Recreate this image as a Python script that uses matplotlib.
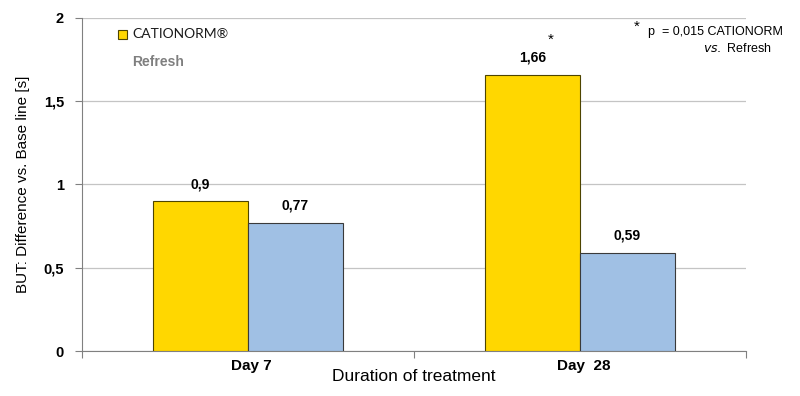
import numpy as np
import matplotlib
matplotlib.use("Agg")
import matplotlib.pyplot as plt
from matplotlib.patches import Rectangle

plt.rcParams['font.family'] = ['Liberation Sans', 'DejaVu Sans']

days = ['Day 7', 'Day  28']
cationorm = [0.9, 1.66]
refresh = [0.77, 0.59]
cationorm_labels = ['0,9', '1,66']
refresh_labels = ['0,77', '0,59']
y_ticks = [0, 0.5, 1, 1.5, 2]
y_tick_labels = ['0', '0,5', '1', '1,5', '2']

yellow = '#FFD700'
blue = '#A0C0E4'
width = 0.286

fig = plt.figure(figsize=(8, 3.96), dpi=100)
ax = fig.add_axes([0.1025, 0.1136, 0.83, 0.841])

x = np.arange(len(days))
ax.bar(x - width / 2, cationorm, width, color=yellow, edgecolor='#4d4400', linewidth=0.8, zorder=3)
ax.bar(x + width / 2, refresh, width, color=blue, edgecolor='#3a3a3a', linewidth=0.8, zorder=3)

for i in range(len(days)):
    ax.text(x[i] - width / 2, cationorm[i] + 0.06, cationorm_labels[i], ha='center', va='bottom',
            fontsize=10, fontweight='bold')
    ax.text(x[i] + width / 2, refresh[i] + 0.06, refresh_labels[i], ha='center', va='bottom',
            fontsize=10, fontweight='bold')

# significance star on Day 28
ax.text(x[1] - width / 2 + 0.055, cationorm[1] + 0.21, '*', ha='center', va='center', fontsize=11)

ax.set_xlim(-0.5, 1.5)
ax.set_ylim(0, 2)
ax.set_yticks(y_ticks)
ax.set_yticklabels(y_tick_labels, fontsize=10.5, fontweight='bold')
ax.yaxis.grid(True, color='#c4c4c4', linewidth=0.9, zorder=0)

ax.set_xticks([-0.5, 0.5, 1.5])
ax.set_xticklabels([])
ax.set_xticks(x + 0.01, minor=True)
ax.set_xticklabels(days, minor=True, fontsize=11, fontweight='bold')
ax.tick_params(axis='x', which='minor', length=0, pad=6)
ax.tick_params(axis='x', which='major', length=5, color='#808080')
ax.tick_params(axis='y', length=5, color='#808080', pad=8)

for s in ['top', 'right']:
    ax.spines[s].set_visible(False)
for s in ['left', 'bottom']:
    ax.spines[s].set_color('#808080')

ax.set_ylabel('BUT: Difference vs. Base line [s]', fontsize=11, labelpad=10)
ax.set_xlabel('Duration of treatment', fontsize=12.5, labelpad=-3)

# legend drawn by hand
fig.patches.append(Rectangle((118 / 800, 1 - 39 / 396), 9 / 800, 9 / 396, transform=fig.transFigure,
                             facecolor=yellow, edgecolor='#4d4400', linewidth=0.8))
fig.text(132 / 800, 1 - 34 / 396, 'CATIONORM\u00ae', fontsize=10, va='center', color='#1a1a1a',
         family=['Lato', 'DejaVu Sans'])
fig.text(132 / 800, 1 - 62 / 396, 'Refresh', fontsize=10, va='center', fontweight='bold', color='#7f7f7f')

# p-value note
fig.text(637 / 800, 1 - 27 / 396, '*', fontsize=11, ha='center', va='center')
fig.text(783 / 800, 1 - 32 / 396, 'p  = 0,015 CATIONORM', fontsize=9, ha='right', va='center')
fig.text(772 / 800, 1 - 48 / 396, r'$\it{vs.}$ Refresh', fontsize=9, ha='right', va='center')

fig.savefig('out.png', dpi=100)
